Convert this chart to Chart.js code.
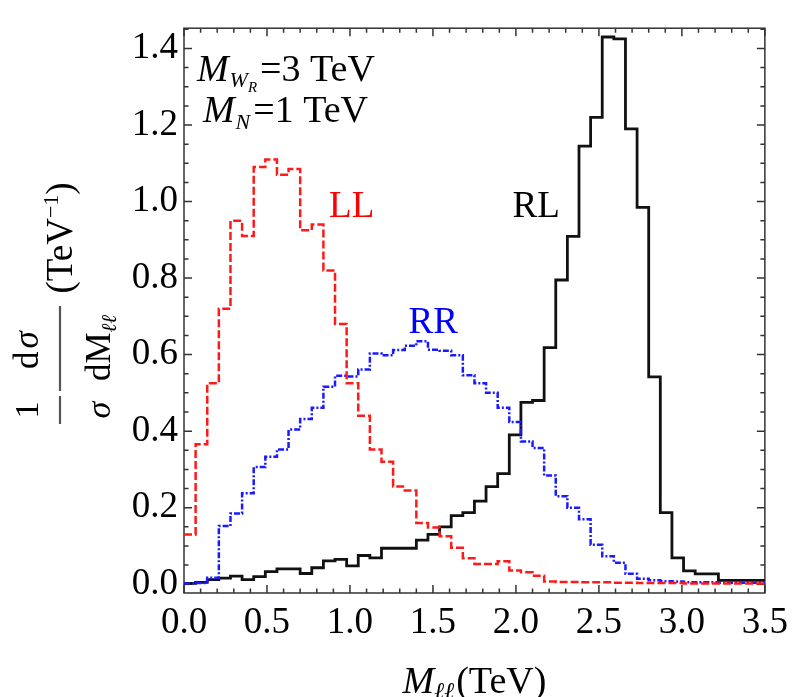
<!DOCTYPE html>
<html>
<head>
<meta charset="utf-8">
<script src="https://cdn.jsdelivr.net/npm/chart.js@4.4.1/dist/chart.umd.min.js"></script>
<style>
  html, body { margin: 0; padding: 0; background: #fff; }
  canvas { display: block; }
</style>
</head>
<body>
<canvas id="graficoMll" width="796" height="697"></canvas>
<script>
// largura de cada bin do histograma (TeV)
const larguraBin = 0.07;

// valores, um por bin (0.00-0.07, 0.07-0.14, ...)
const valoresLL = [0.13, 0.366, 0.525, 0.72, 0.95, 0.91, 1.09, 1.11, 1.07, 1.085,
  0.925, 0.94, 0.82, 0.68, 0.525, 0.44, 0.352, 0.32, 0.255, 0.245,
  0.16, 0.148, 0.125, 0.095, 0.068, 0.053, 0.053, 0.06, 0.036, 0.031,
  0.022, 0.007, 0.006, 0.006, 0.005, 0.005, 0.005, 0.004, 0.004, 0.003,
  0.003, 0.003, 0.003, 0.002, 0.002, 0.002, 0.002, 0.002, 0.002, 0.002];

const valoresRR = [0.002, 0.003, 0.017, 0.152, 0.185, 0.238, 0.306, 0.333, 0.352, 0.404,
  0.432, 0.461, 0.516, 0.545, 0.543, 0.561, 0.603, 0.598, 0.612, 0.623,
  0.635, 0.613, 0.61, 0.598, 0.546, 0.525, 0.5, 0.461, 0.424, 0.373,
  0.356, 0.284, 0.23, 0.2, 0.17, 0.103, 0.073, 0.056, 0.027, 0.014,
  0.01, 0.008, 0.007, 0.005, 0.005, 0.005, 0.004, 0.004, 0.004, 0.004];

const valoresRL = [0.002, 0.005, 0.012, 0.016, 0.021, 0.012, 0.02, 0.033, 0.04, 0.04,
  0.028, 0.043, 0.061, 0.065, 0.048, 0.075, 0.069, 0.094, 0.094, 0.094,
  0.115, 0.13, 0.15, 0.179, 0.187, 0.217, 0.255, 0.289, 0.39, 0.475,
  0.48, 0.618, 0.795, 0.909, 1.145, 1.22, 1.43, 1.425, 1.19, 0.985,
  0.542, 0.187, 0.069, 0.035, 0.027, 0.027, 0.01, 0.01, 0.01, 0.01];

const ticksX = [0, 0.5, 1.0, 1.5, 2.0, 2.5, 3.0, 3.5];
const ticksY = [0, 0.2, 0.4, 0.6, 0.8, 1.0, 1.2, 1.4];

const SERIF = '"Liberation Serif", "Times New Roman", serif';

// cada bin vira um ponto na borda esquerda; o último ponto fecha o bin final
function pontosHistograma(valores) {
    const pts = valores.map((v, i) => ({ x: i * larguraBin, y: v }));
    pts.push({ x: valores.length * larguraBin, y: valores[valores.length - 1] });
    return pts;
}

// desenha pedaços de texto em sequência (para subscritos)
function escreverPartes(ctx, x, y, partes) {
    let cx = x;
    partes.forEach(p => {
        ctx.font = p.fonte;
        ctx.fillText(p.texto, cx + (p.dx || 0), y + (p.dy || 0));
        cx += ctx.measureText(p.texto).width + (p.dx || 0);
    });
    return cx - x;
}

function larguraPartes(ctx, partes) {
    let w = 0;
    partes.forEach(p => { ctx.font = p.fonte; w += ctx.measureText(p.texto).width + (p.dx || 0); });
    return w;
}

const molduraPlugin = {
    id: 'moldura',
    beforeDatasetsDraw(chart) {
        const { ctx, chartArea: a, scales: { x, y } } = chart;
        ctx.save();
        ctx.strokeStyle = '#333';
        ctx.lineWidth = 1.5;
        ctx.strokeRect(a.left, a.top, a.right - a.left, a.bottom - a.top);

        ctx.beginPath();
        // ticks menores a cada 0.1 no eixo x
        for (let i = 0; i <= 35; i++) {
            const px = x.getPixelForValue(i * 0.1);
            const len = i % 5 === 0 ? 8 : 4.5;
            ctx.moveTo(px, a.bottom); ctx.lineTo(px, a.bottom - len);
            ctx.moveTo(px, a.top); ctx.lineTo(px, a.top + len);
        }
        // ticks menores a cada 0.05 no eixo y
        for (let i = 0; i * 0.05 <= y.max; i++) {
            const py = y.getPixelForValue(i * 0.05);
            const len = i % 4 === 0 ? 8 : 4.5;
            ctx.moveTo(a.left, py); ctx.lineTo(a.left + len, py);
            ctx.moveTo(a.right, py); ctx.lineTo(a.right - len, py);
        }
        ctx.stroke();
        ctx.restore();
    },
    afterDraw(chart) {
        const { ctx, chartArea: a, scales: { x, y } } = chart;
        ctx.save();
        ctx.textBaseline = 'alphabetic';
        ctx.textAlign = 'left';

        // rótulos das curvas
        ctx.font = '37px ' + SERIF;
        ctx.fillStyle = '#ff0000';
        ctx.fillText('LL', x.getPixelForValue(0.874), y.getPixelForValue(0.96));
        ctx.fillStyle = '#000';
        ctx.fillText('RL', x.getPixelForValue(1.98), y.getPixelForValue(0.96));
        ctx.fillStyle = '#0000ff';
        ctx.fillText('RR', x.getPixelForValue(1.353), y.getPixelForValue(0.656));

        // anotação das massas
        ctx.fillStyle = '#000';
        const it = s => 'italic ' + s + 'px ' + SERIF;
        const rg = s => s + 'px ' + SERIF;
        escreverPartes(ctx, x.getPixelForValue(0.078), y.getPixelForValue(1.314), [
            { texto: 'M', fonte: it(38) },
            { texto: 'W', fonte: it(22), dy: 6, dx: 1 },
            { texto: 'R', fonte: it(15), dy: 11 },
            { texto: '=3 TeV', fonte: rg(38), dx: 3 }
        ]);
        escreverPartes(ctx, x.getPixelForValue(0.114), y.getPixelForValue(1.208), [
            { texto: 'M', fonte: it(38) },
            { texto: 'N', fonte: it(22), dy: 7, dx: 1 },
            { texto: '=1 TeV', fonte: rg(38), dx: 3 }
        ]);

        // título do eixo x
        const partesX = [
            { texto: 'M', fonte: it(38) },
            { texto: 'ℓℓ', fonte: it(24), dy: 6 },
            { texto: '(TeV)', fonte: rg(38), dx: 2 }
        ];
        const wx = larguraPartes(ctx, partesX);
        escreverPartes(ctx, (a.left + a.right) / 2 - wx / 2, 693, partesX);

        // título do eixo y (girado)
        const girado = (sx, sy, fn) => {
            ctx.save();
            ctx.translate(sx, sy);
            ctx.rotate(-Math.PI / 2);
            fn();
            ctx.restore();
        };
        const centrado = (sx, sy, partes) => girado(sx, sy, () => {
            const w = larguraPartes(ctx, partes);
            escreverPartes(ctx, -w / 2, 0, partes);
        });
        centrado(38, 410, [{ texto: '1', fonte: rg(34) }]);
        centrado(110, 410, [{ texto: 'σ', fonte: it(34) }]);
        centrado(38, 350, [
            { texto: 'd', fonte: rg(35) },
            { texto: 'σ', fonte: it(35), dx: 3 }
        ]);
        centrado(110, 348, [
            { texto: 'dM', fonte: rg(35) },
            { texto: 'ℓℓ', fonte: it(21), dy: 6 }
        ]);
        centrado(72, 238, [
            { texto: '(TeV', fonte: rg(37) },
            { texto: '−1', fonte: rg(22), dy: -14 },
            { texto: ')', fonte: rg(37) }
        ]);
        ctx.strokeStyle = '#555';
        ctx.lineWidth = 2.2;
        ctx.beginPath();
        ctx.moveTo(60, 396); ctx.lineTo(60, 424);
        ctx.moveTo(60, 306); ctx.lineTo(60, 391);
        ctx.stroke();

        ctx.restore();
    }
};

const fonteTicks = { family: SERIF, size: 37 };

const grafico = new Chart(document.getElementById('graficoMll').getContext('2d'), {
    type: 'line',
    data: {
        datasets: [
            { label: 'LL', data: pontosHistograma(valoresLL), borderColor: '#ff1a1a', borderWidth: 2.5, borderDash: [8, 3], stepped: 'before', pointRadius: 0, fill: false },
            { label: 'RR', data: pontosHistograma(valoresRR), borderColor: '#1a1aff', borderWidth: 2.5, borderDash: [6, 2, 2, 2], stepped: 'before', pointRadius: 0, fill: false },
            { label: 'RL', data: pontosHistograma(valoresRL), borderColor: '#111', borderWidth: 2.8, stepped: 'before', pointRadius: 0, fill: false }
        ]
    },
    options: {
        responsive: false,
        animation: false,
        devicePixelRatio: 1,
        layout: { padding: { top: 10, right: 28, bottom: 0, left: 0 } },
        plugins: {
            legend: { display: false },
            tooltip: { enabled: false }
        },
        scales: {
            x: {
                type: 'linear',
                min: 0,
                max: 3.5,
                afterBuildTicks: s => { s.ticks = ticksX.map(v => ({ value: v })); },
                afterFit: s => { s.height = 104; },
                ticks: { callback: v => v.toFixed(1), font: fonteTicks, color: '#000', padding: 8, maxRotation: 0, autoSkip: false },
                grid: { display: false, drawTicks: false },
                border: { display: false }
            },
            y: {
                type: 'linear',
                min: -0.023,
                max: 1.453,
                afterBuildTicks: s => { s.ticks = ticksY.map(v => ({ value: v })); },
                afterFit: s => { s.width = 184; },
                ticks: { callback: v => v.toFixed(1), font: fonteTicks, color: '#000', padding: 6, autoSkip: false },
                grid: { display: false, drawTicks: false },
                border: { display: false }
            }
        }
    },
    plugins: [molduraPlugin]
});
</script>
</body>
</html>
